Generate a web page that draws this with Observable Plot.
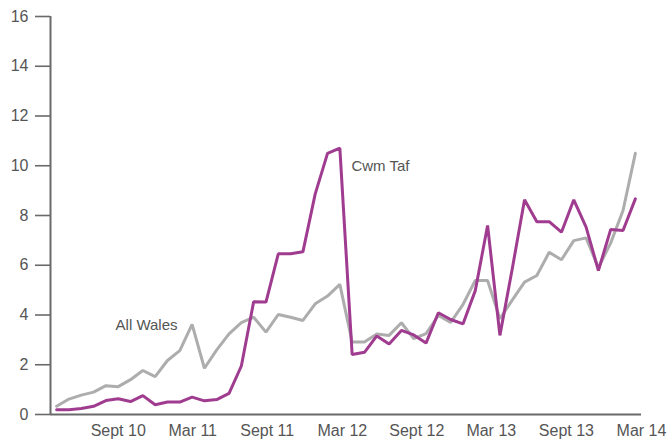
<!DOCTYPE html>
<html>
<head>
<meta charset="utf-8">
<script src="https://cdn.jsdelivr.net/npm/d3@7"></script>
<script src="https://cdn.jsdelivr.net/npm/@observablehq/plot@0.6"></script>
<style>
  html, body { margin: 0; padding: 0; background: #fff; }
  svg g[aria-label="y-axis tick"] path { stroke-width: 1.6; stroke: #6a6a6a; }
</style>
</head>
<body>
<div id="chart"></div>
<script>
// Monthly series, Apr 2010 .. Mar 2014 (48 months)
const allWales = [0.33, 0.62, 0.78, 0.9, 1.16, 1.12, 1.4, 1.77, 1.52, 2.17, 2.57, 3.62,
  1.86, 2.6, 3.24, 3.69, 3.91, 3.31, 4.02, 3.91, 3.78, 4.45, 4.76, 5.23,
  2.91, 2.91, 3.24, 3.18, 3.69, 3.05, 3.25, 3.98, 3.7, 4.42, 5.39, 5.39,
  3.85, 4.6, 5.32, 5.59, 6.52, 6.22, 6.99, 7.1, 5.9, 6.9, 8.2, 10.5];
const cwmTaf = [0.19, 0.19, 0.24, 0.33, 0.56, 0.63, 0.52, 0.76, 0.39, 0.5, 0.5, 0.7,
  0.55, 0.6, 0.85, 1.95, 4.53, 4.52, 6.46, 6.46, 6.54, 8.87, 10.5, 10.71,
  2.41, 2.5, 3.16, 2.83, 3.38, 3.2, 2.87, 4.09, 3.82, 3.64, 4.98, 7.6,
  3.18, 5.85, 8.63, 7.75, 7.75, 7.33, 8.63, 7.53, 5.79, 7.44, 7.4, 8.67];
const tickLabels = ["Sept 10", "Mar 11", "Sept 11", "Mar 12", "Sept 12", "Mar 13", "Sept 13", "Mar 14"];
const tickMonths = [5, 11.05, 17.1, 23.2, 29.25, 35.3, 41.4, 47.5];
const yTicks = [0, 2, 4, 6, 8, 10, 12, 14, 16];
const seriesNames = ["All Wales", "Cwm Taf"];
const labelPos = [{name: "All Wales", i: 7.3, v: 3.6}, {name: "Cwm Taf", i: 26.3, v: 10.0}];

const colors = {"All Wales": "#adadad", "Cwm Taf": "#a03c90"};
const rows = [];
allWales.forEach((v, i) => rows.push({series: "All Wales", i, v}));
cwmTaf.forEach((v, i) => rows.push({series: "Cwm Taf", i, v}));
const xDomain = [-0.5, allWales.length - 0.5];
const labelMap = new Map(tickMonths.map((m, k) => [m, tickLabels[k]]));

const chart = Plot.plot({
  width: 670,
  height: 447,
  marginLeft: 50,
  marginRight: 29,
  marginTop: 16,
  marginBottom: 33,
  style: {fontFamily: "Arial, 'Liberation Sans', Helvetica, sans-serif", fontSize: "16px", color: "#555", background: "#fff"},
  x: {domain: xDomain, ticks: tickMonths, tickFormat: d => labelMap.get(d), tickSize: 0, tickPadding: 10, label: null},
  y: {domain: [0, 16], ticks: yTicks, tickSize: 15, tickPadding: 7, label: null},
  marks: [
    Plot.ruleX([xDomain[0]], {y1: 0, y2: 16, stroke: "#6a6a6a", strokeWidth: 2}),
    Plot.ruleY([0], {stroke: "#6a6a6a", strokeWidth: 2}),
    Plot.line(rows.filter(d => d.series === seriesNames[0]), {x: "i", y: "v", stroke: colors["All Wales"], strokeWidth: 3, strokeLinejoin: "miter"}),
    Plot.line(rows.filter(d => d.series === seriesNames[1]), {x: "i", y: "v", stroke: colors["Cwm Taf"], strokeWidth: 3, strokeLinejoin: "miter"}),
    Plot.text(labelPos, {x: "i", y: "v", text: "name", fill: "#555", fontSize: 15})
  ]
});
document.getElementById("chart").appendChild(chart);
</script>
</body>
</html>
